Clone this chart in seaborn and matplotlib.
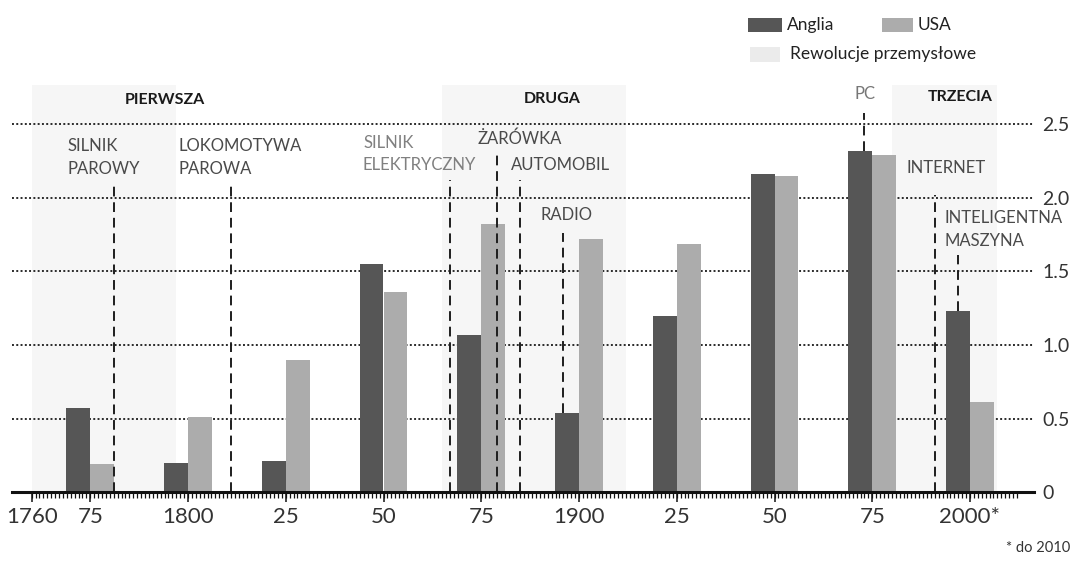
import numpy as np
import pandas as pd
import matplotlib
matplotlib.use("Agg")
import matplotlib.pyplot as plt
from matplotlib.patches import Rectangle
from matplotlib.ticker import FixedLocator
import seaborn as sns

# ---------------- data ----------------
years = [1775, 1800, 1825, 1850, 1875, 1900, 1925, 1950, 1975, 2000]
anglia = [0.57, 0.20, 0.21, 1.55, 1.07, 0.54, 1.20, 2.16, 2.32, 1.23]
usa = [0.19, 0.51, 0.90, 1.36, 1.82, 1.72, 1.69, 2.15, 2.29, 0.61]
series_names = ["Anglia", "USA"]

tick_years = [1760, 1775, 1800, 1825, 1850, 1875, 1900, 1925, 1950, 1975, 2000]
tick_labels = ["1760", "75", "1800", "25", "50", "75", "1900", "25", "50", "75", "2000*"]
y_ticks = [0, 0.5, 1.0, 1.5, 2.0, 2.5]
y_tick_labels = ["0", "0.5", "1.0", "1.5", "2.0", "2.5"]

event_labels = ["SILNIK\nPAROWY", "LOKOMOTYWA\nPAROWA", "SILNIK\nELEKTRYCZNY", "ŻARÓWKA",
                "AUTOMOBIL", "RADIO", "PC", "INTERNET", "INTELIGENTNA\nMASZYNA"]
event_years = [1781, 1811, 1867, 1879, 1885, 1896, 1973, 1991, 1997]

revolution_labels = ["PIERWSZA", "DRUGA", "TRZECIA"]
revolution_spans = [(1760, 1797), (1865, 1912), (1980, 2007)]

# ---------------- figure / helpers ----------------
W, H = 1087, 562
sns.set_style("white")
plt.rcParams["font.family"] = ["Lato", "DejaVu Sans"]

fig = plt.figure(figsize=(W / 100, H / 100), dpi=100)
fig.patch.set_facecolor("white")

PX_PER_YEAR = 3.91
X0_PX, X0_YEAR = 579, 1900
BASE_PX, PX_PER_UNIT = 492, 147


def X(px):
    return X0_YEAR + (px - X0_PX) / PX_PER_YEAR


def Y(py):
    return (BASE_PX - py) / PX_PER_UNIT


ax_left, ax_right, ax_top = 12, 1034, 85
ax = fig.add_axes([ax_left / W, (H - BASE_PX) / H, (ax_right - ax_left) / W, (BASE_PX - ax_top) / H])
ax.set_xlim(X(ax_left), X(ax_right))
ax.set_ylim(0, Y(ax_top))
ax.set_facecolor("none")

# background bands (Rewolucje przemysłowe)
for a, b in revolution_spans:
    ax.axvspan(a, b, color="#f6f6f6", zorder=0, lw=0)

# bars
df = pd.DataFrame({
    "year": years * 2,
    "value": anglia + usa,
    "country": [series_names[0]] * len(years) + [series_names[1]] * len(years),
})
sns.barplot(data=df, x="year", y="value", hue="country", native_scale=True,
            width=0.49, dodge=True, palette=["#565656", "#acacac"], saturation=1,
            errorbar=None, legend=False, ax=ax, zorder=3, linewidth=0)

ax.set_xlim(X(ax_left), X(ax_right))
ax.set_ylim(0, Y(ax_top))
ax.set_xlabel("")
ax.set_ylabel("")

# grid
ax.set_yticks(y_ticks)
ax.set_yticklabels(y_tick_labels)
ax.yaxis.grid(True, linestyle=(0, (1, 1.2)), color="#2a2a2a", lw=1.4)
ax.xaxis.grid(False)
ax.set_axisbelow(True)
ax.yaxis.tick_right()
ax.tick_params(axis="y", length=0, pad=6, labelsize=14, labelcolor="#333333")

# x axis ruler ticks
ax.xaxis.set_major_locator(FixedLocator(tick_years))
ax.set_xticklabels(tick_labels)
ax.xaxis.set_minor_locator(FixedLocator(list(range(1760, 2013))))
ax.xaxis.remove_overlapping_locs = False
ax.tick_params(axis="x", which="both", bottom=True, top=False)
ax.tick_params(axis="x", which="major", direction="out", length=7, width=1.1,
               color="#111111", labelsize=16, labelcolor="#333333", pad=4)
ax.tick_params(axis="x", which="minor", direction="out", length=4.5, width=0.9, color="#111111")

for s in ["top", "left", "right"]:
    ax.spines[s].set_visible(False)
ax.spines["bottom"].set_linewidth(2.2)
ax.spines["bottom"].set_color("#111111")
ax.spines["bottom"].set_zorder(5)

# event dashed lines (layout: tops in data units, some stop at bar tops)
line_tops = [2.10, 2.10, 2.12, 2.31, 2.12, 1.76, 2.58, 2.02, 1.61]
line_bottoms = [0, 0, 0, 0, 0, anglia[5], anglia[8], 0, anglia[9]]
ax.vlines(event_years, line_bottoms, line_tops, colors="#1e1e1e", linestyles=(0, (5, 3)),
          lw=1.4, zorder=4, clip_on=False)

# event labels (left x px, center y px, ha, color)
event_pos = [(68, 157.5, "left", "#4a4a4a"), (178, 157.5, "left", "#4a4a4a"),
             (363, 154, "left", "#808080"), (478, 139, "left", "#4a4a4a"),
             (511, 165, "left", "#4a4a4a"), (541, 215, "left", "#4a4a4a"),
             (865, 94, "center", "#777777"), (907, 168, "left", "#4a4a4a"),
             (945, 229.5, "left", "#4a4a4a")]
for lab, (px, py, ha, col) in zip(event_labels, event_pos):
    ax.text(X(px), Y(py), lab, ha=ha, va="center", fontsize=12, color=col,
            linespacing=1.5, clip_on=False, zorder=6)

# revolution headers
rev_pos = [(165, 100), (552, 99), (960, 97)]
for lab, (px, py) in zip(revolution_labels, rev_pos):
    fig.text(px / W, 1 - py / H, lab, ha="center", va="center", fontsize=11.5,
             fontweight="bold", color="#1a1a1a")

# legend (manual)
def patch(x0, y0, x1, y1, color):
    fig.patches.append(Rectangle((x0 / W, 1 - y1 / H), (x1 - x0) / W, (y1 - y0) / H,
                                 transform=fig.transFigure, color=color, lw=0))

patch(748, 18, 782, 32, "#565656")
fig.text(787 / W, 1 - 25 / H, series_names[0], ha="left", va="center", fontsize=12.5, color="#222222")
patch(882, 18, 913, 32, "#acacac")
fig.text(918 / W, 1 - 25 / H, series_names[1], ha="left", va="center", fontsize=12.5, color="#222222")
patch(750, 47, 780, 62, "#ebebeb")
fig.text(790 / W, 1 - 54 / H, "Rewolucje przemysłowe", ha="left", va="center", fontsize=12.5,
         color="#222222")

# footnote
fig.text(1070 / W, 1 - 548 / H, "* do 2010", ha="right", va="center", fontsize=10.5, color="#333333")

fig.savefig("out.png", dpi=100, facecolor="white")
